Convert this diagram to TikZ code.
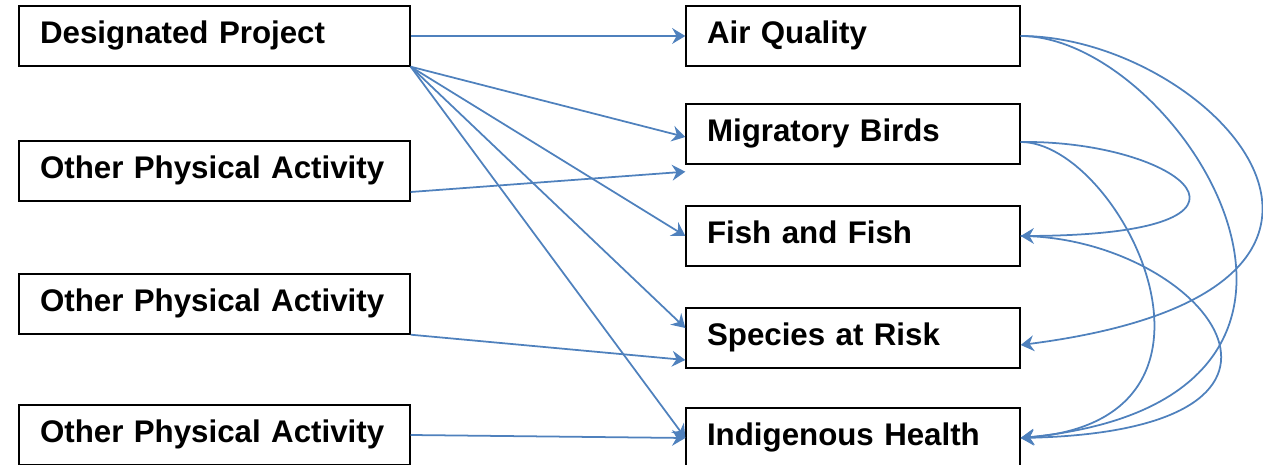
\documentclass[tikz,border=0pt]{standalone}
\usepackage{fontspec}
\setmainfont{Liberation Sans}
\usepackage{tikz}
\usetikzlibrary{arrows.meta}

\definecolor{linkblue}{RGB}{79,129,189}

\tikzset{
    leftbox/.style={draw=black, line width=0.8pt, inner xsep=0.42cm, text width=6.98cm,
        align=left, minimum height=1.2cm, text height=13pt, text depth=4pt,
        font=\fontsize{17.8}{20}\selectfont\bfseries},
    rightbox/.style={leftbox, text width=5.84cm},
    arr/.style={draw=linkblue, line width=1pt, -{Stealth[length=7.5pt, width=9pt, inset=2.5pt]}},
}

\begin{document}
\begin{tikzpicture}[x=0.02cm, y=-0.02cm]
    \useasboundingbox (0, 0) rectangle (1263, 465);
    % causes
    \node[leftbox] (dp) at (214.5, 36) {Designated Project};
    \node[leftbox] (opa1) at (214.5, 171) {Other Physical Activity};
    \node[leftbox] (opa2) at (214.5, 304) {Other Physical Activity};
    \node[leftbox] (opa3) at (214.5, 435) {Other Physical Activity};
    % effects
    \node[rightbox] (aq) at (853, 36) {Air Quality};
    \node[rightbox] (mb) at (853, 134) {Migratory Birds};
    \node[rightbox] (ff) at (853, 236) {Fish and Fish};
    \node[rightbox] (sr) at (853, 338) {Species at Risk};
    \node[rightbox] (ih) at (853, 438) {Indigenous Health};
    \coordinate (mbmiss) at ([yshift=-0.14cm]mb.south west);

    \draw[arr] (dp.east) -- (aq.west);
    \draw[arr] (dp.south east) -- ([yshift=-0.06cm]mb.west);
    \draw[arr] (dp.south east) -- (ff.west);
    \draw[arr] (dp.south east) -- ([yshift=0.2cm]sr.west);
    \draw[arr] (dp.south east) -- (ih.west);
    \draw[arr] ([yshift=-0.42cm]opa1.east) -- (mbmiss);
    \draw[arr] (opa2.south east) -- ([yshift=-0.44cm]sr.west);
    \draw[arr] (opa3.east) -- (ih.west);

    % links between effects
    \draw[arr] (aq.east) .. controls (1210, 36) and (1450, 290) .. ([yshift=-0.14cm]sr.east);
    \draw[arr] (aq.east) .. controls (1180, 36) and (1410, 400) .. (ih.east);
    \draw[arr] ([yshift=-0.16cm]mb.east) .. controls (1180, 140) and (1300, 235) .. (ff.east);
    \draw[arr] ([yshift=-0.16cm]mb.east) .. controls (1120, 142) and (1260, 420) .. (ih.east);
    \draw[arr] (ff.east) .. controls (1200, 237) and (1360, 430) .. (ih.east);
\end{tikzpicture}
\end{document}
